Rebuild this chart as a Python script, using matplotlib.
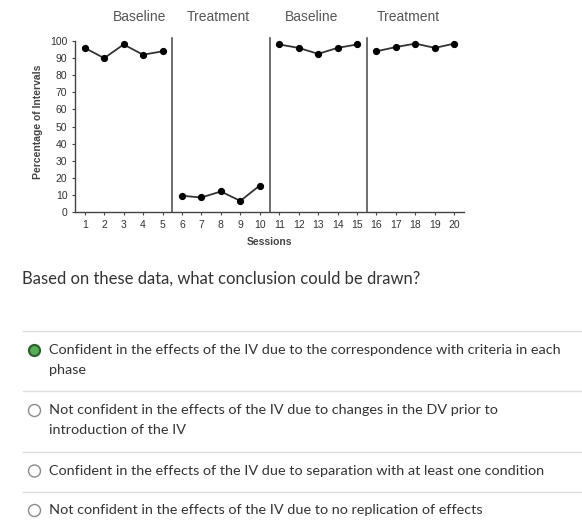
import matplotlib

matplotlib.use("Agg")
import matplotlib.pyplot as plt
from matplotlib.patches import Circle

# session data
sessions = list(range(1, 21))
pct = [96, 90, 98, 92, 94,
       9.5, 8.5, 12, 6.5, 15.5,
       98, 96, 92.5, 96, 98,
       94, 96.5, 98.5, 96, 98.5]
phase_names = ["Baseline", "Treatment", "Baseline", "Treatment"]
phase_breaks = [5.5, 10.5, 15.5]
phase_len = 5

question = "Based on these data, what conclusion could be drawn?"
options = [
    ["Confident in the effects of the IV due to the correspondence with criteria in each", "phase"],
    ["Not confident in the effects of the IV due to changes in the DV prior to", "introduction of the IV"],
    ["Confident in the effects of the IV due to separation with at least one condition"],
    ["Not confident in the effects of the IV due to no replication of effects"],
]
selected = 0

W, H = 582, 523
fig = plt.figure(figsize=(W / 100, H / 100), dpi=100)

# overlay in pixel coordinates for the quiz part
bg = fig.add_axes([0, 0, 1, 1])
bg.set_xlim(0, W)
bg.set_ylim(H, 0)
bg.axis("off")

# chart axes: x 75..464 px, y 32.5..212 px
ax = fig.add_axes([75 / W, 1 - 212 / H, (464 - 75) / W, (212 - 32.5) / H])
ax.set_xlim(0.5, 20.5)
ax.set_ylim(0, 105)
for s in ["top", "right"]:
    ax.spines[s].set_visible(False)
ax.spines["left"].set_bounds(0, 100)
for s in ["left", "bottom"]:
    ax.spines[s].set_color("#444444")
    ax.spines[s].set_linewidth(1.0)
ax.patch.set_alpha(0)

chart_font = "Liberation Sans"
ax.set_xticks(sessions)
ax.set_yticks(range(0, 101, 10))
ax.tick_params(axis="both", labelsize=7.5, length=2.5, width=0.8, colors="#444444",
               pad=3)
for lab in ax.get_xticklabels() + ax.get_yticklabels():
    lab.set_fontfamily(chart_font)
    lab.set_color("#333333")

for b in phase_breaks:
    ax.plot([b, b], [0, 102], color="#555555", lw=1.2, clip_on=False)

for i in range(0, len(sessions), phase_len):
    ax.plot(sessions[i:i + phase_len], pct[i:i + phase_len], color="#333333", lw=1.3,
            marker="o", ms=4.2, mfc="black", mec="black", clip_on=False)

ax.set_xlabel("Sessions", fontsize=7.5, fontfamily=chart_font, fontweight="bold",
              color="#444444", labelpad=5)
ax.set_ylabel("Percentage of Intervals", fontsize=7.5, fontfamily=chart_font,
              fontweight="bold", color="#444444", labelpad=5)

phase_x = [140, 218, 312, 408]
for name, px in zip(phase_names, phase_x):
    bg.text(px, 17, name, fontsize=10, fontfamily=chart_font, color="#555555",
            ha="center", va="center")

# quiz text
quiz_font = "Lato"
bg.text(22, 279, question, fontsize=12, fontfamily=quiz_font, color="#333333",
        ha="left", va="center")

sep_y = [330.5, 391, 451.5, 491.5]
for y in sep_y:
    bg.plot([22.5, W], [y, y], color="#dddddd", lw=1)

opt_y = [350.5, 410.5, 471, 510.5]
for k, (lines, y) in enumerate(zip(options, opt_y)):
    if k == selected:
        bg.add_patch(Circle((34.5, y), 5.5, facecolor="#55b055", edgecolor="#2f5f2f", lw=1.6))
    else:
        bg.add_patch(Circle((34.5, y), 6, facecolor="white", edgecolor="#8a8a8a", lw=1.0))
    for j, line in enumerate(lines):
        bg.text(49, y + 20 * j, line, fontsize=10.4, fontfamily=quiz_font, color="#333333",
                ha="left", va="center")

fig.savefig("out.png", dpi=100)
